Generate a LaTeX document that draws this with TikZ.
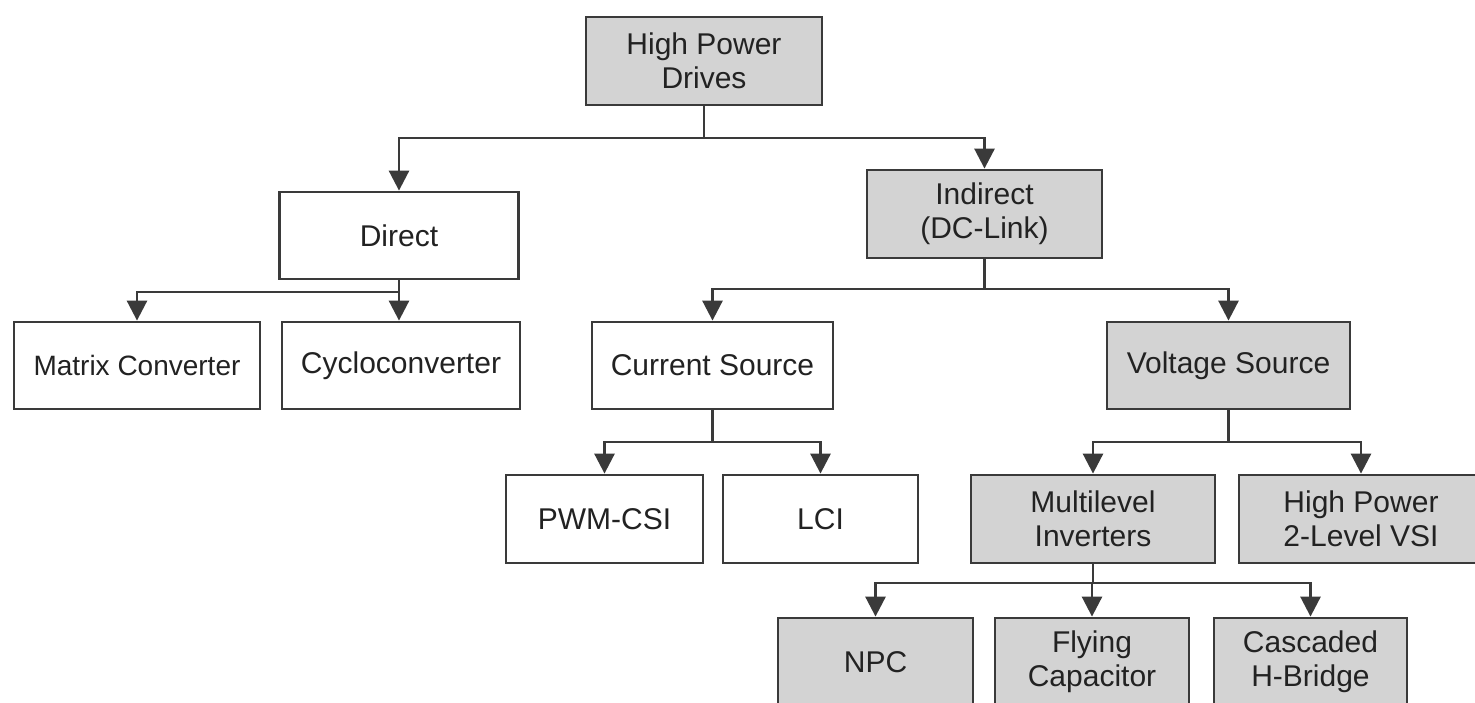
\documentclass[tikz,border=0pt]{standalone}
\usepackage{fontspec}
\setmainfont{Liberation Sans}
\usetikzlibrary{arrows.meta}
\definecolor{boxgray}{HTML}{D3D3D3}
\definecolor{linegray}{HTML}{3A3A3A}
\definecolor{txt}{HTML}{222222}
\begin{document}
\begin{tikzpicture}[x=1pt,y=-1pt,
  box/.style={draw=linegray,line width=2.8pt,rectangle,minimum height=88pt,inner sep=0pt,
    align=center,text=txt,font=\fontsize{30}{34}\selectfont},
  graybox/.style={box,fill=boxgray},
  whitebox/.style={box,fill=white},
  link/.style={draw=linegray,line width=2.8pt},
  arr/.style={link,-{Triangle[width=20pt,length=20pt]}}]
\useasboundingbox (0,0) rectangle (1475,703);
\clip (0,0) rectangle (1475,703);
% nodes
\node[graybox,minimum width=236pt] (hpd) at (704,61) {High Power\\Drives};
\node[whitebox,minimum width=239pt,minimum height=87pt] (direct) at (399,235.5) {Direct};
\node[graybox,minimum width=235pt] (indirect) at (984.5,214) {Indirect\\(DC-Link)};
\node[whitebox,minimum width=246pt,minimum height=87pt,font=\fontsize{28}{32}\selectfont] (matrix) at (137,365.5) {Matrix Converter};
\node[whitebox,minimum width=238pt,minimum height=87pt] (cyclo) at (401,365.5) {Cycloconverter};
\node[whitebox,minimum width=241pt,minimum height=87pt] (current) at (712.5,365.5) {Current Source};
\node[graybox,minimum width=243pt,minimum height=87pt] (voltage) at (1228.5,365.5) {Voltage Source};
\node[whitebox,minimum width=197pt] (pwm) at (604.5,519) {PWM-CSI};
\node[whitebox,minimum width=195pt] (lci) at (820.5,519) {LCI};
\node[graybox,minimum width=244pt] (multi) at (1093,519) {Multilevel\\Inverters};
\node[graybox,minimum width=244pt] (hp2l) at (1361,519) {High Power\\2-Level VSI};
\node[graybox,minimum width=195pt] (npc) at (875.5,662) {NPC};
\node[graybox,minimum width=194pt] (fc) at (1092,662) {Flying\\Capacitor};
\node[graybox,minimum width=193pt] (chb) at (1310.5,662) {Cascaded\\H-Bridge};
% junctions
\coordinate (j1) at (704,138);
\coordinate (j2) at (399,292);
\coordinate (j3) at (984.5,289);
\coordinate (j4) at (712.5,442);
\coordinate (j5) at (1228.5,442);
\coordinate (j6) at (1093,583);
% connectors
\draw[link] (hpd.south) -- (j1);
\draw[arr] (j1) -| (direct.north);
\draw[arr] (j1) -| (indirect.north);
\draw[link] (direct.south) -- (j2);
\draw[arr] (j2) -- (j2 |- cyclo.north);
\draw[arr] (j2) -| (matrix.north);
\draw[link] (indirect.south) -- (j3);
\draw[arr] (j3) -| (current.north);
\draw[arr] (j3) -| (voltage.north);
\draw[link] (current.south) -- (j4);
\draw[arr] (j4) -| (pwm.north);
\draw[arr] (j4) -| (lci.north);
\draw[link] (voltage.south) -- (j5);
\draw[arr] (j5) -| (multi.north);
\draw[arr] (j5) -| (hp2l.north);
\draw[link] (multi.south) -- (j6);
\draw[arr] (j6) -| (npc.north);
\draw[arr] (j6) -| (fc.north);
\draw[arr] (j6) -| (chb.north);
\end{tikzpicture}
\end{document}
